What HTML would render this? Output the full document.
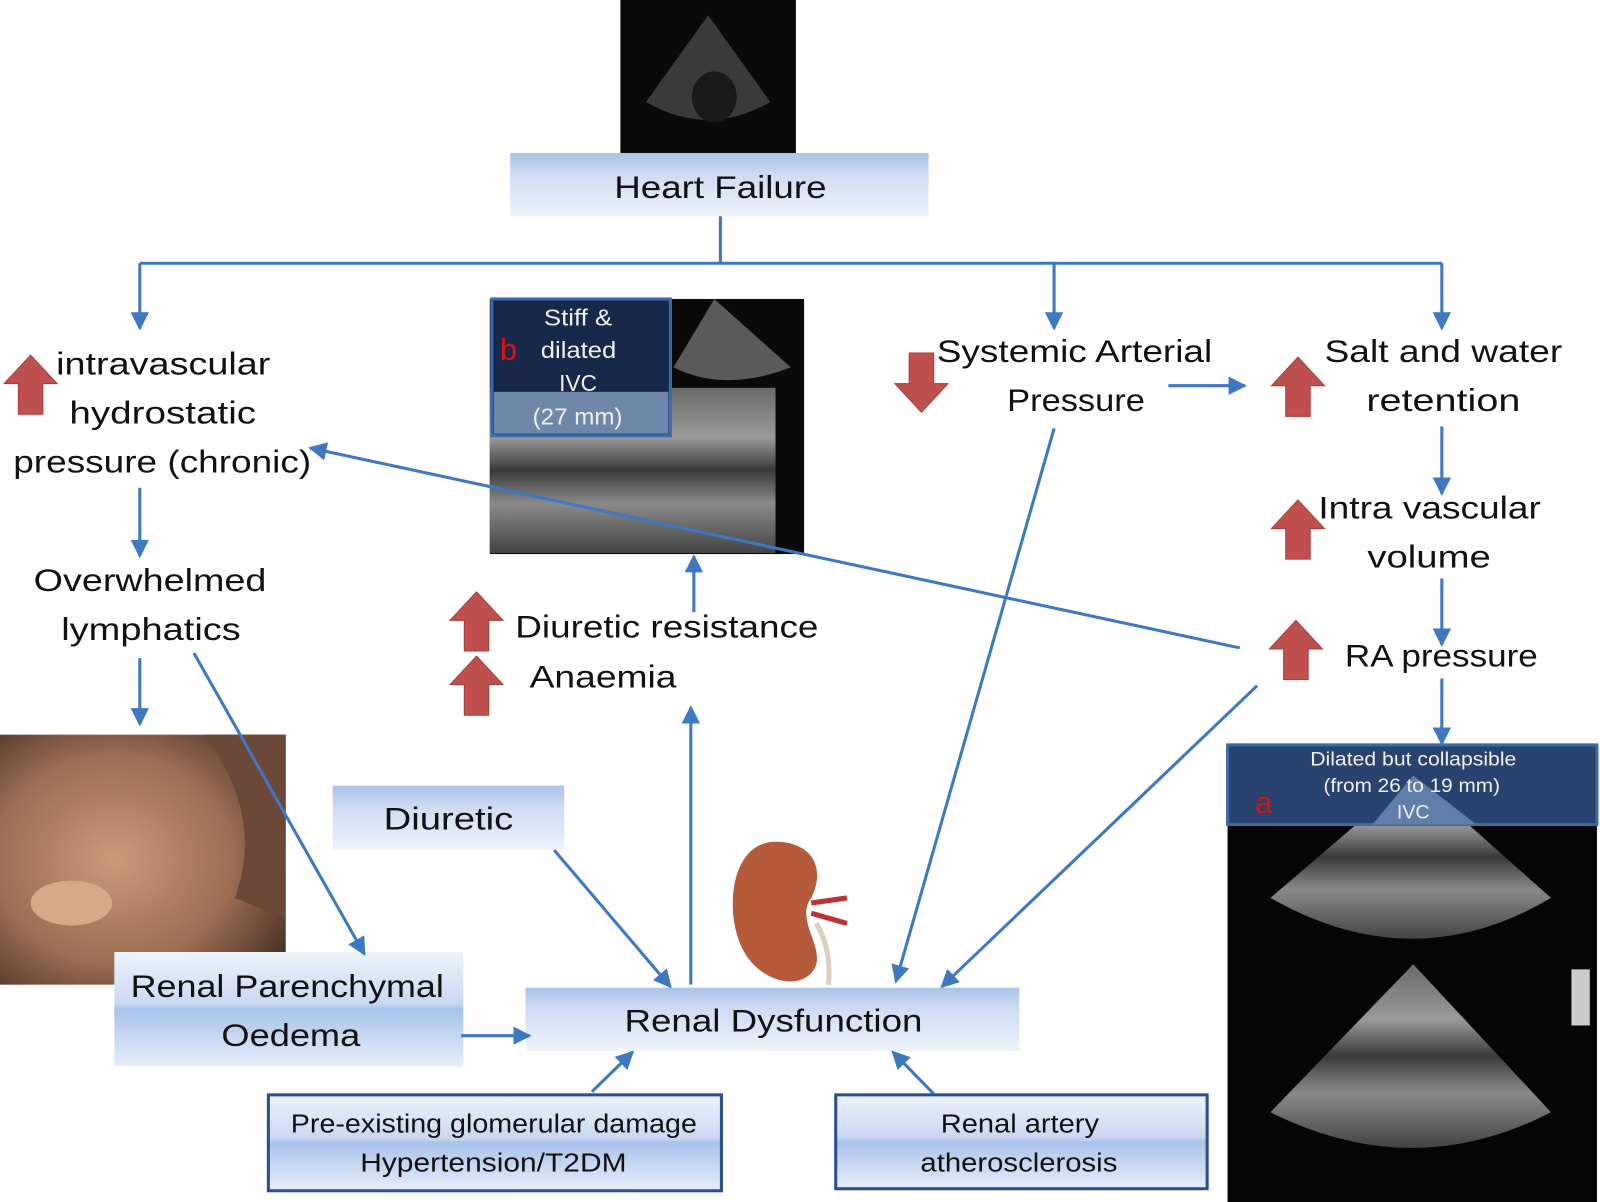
<!DOCTYPE html>
<html><head><meta charset="utf-8"><style>
html,body{margin:0;padding:0;background:#fff;}
svg{display:block;}
text{font-family:"Liberation Sans",sans-serif;}
</style></head><body>
<svg width="1600" height="1202" viewBox="0 0 1568 1178" preserveAspectRatio="none" xmlns="http://www.w3.org/2000/svg">
<defs>
<linearGradient id="bx" x1="0" y1="0" x2="0" y2="1">
<stop offset="0" stop-color="#a9c3ea"/><stop offset="0.35" stop-color="#cfdcf3"/><stop offset="1" stop-color="#eef3fb"/></linearGradient>
<linearGradient id="bx2" x1="0" y1="0" x2="0" y2="1">
<stop offset="0" stop-color="#eef3fb"/><stop offset="0.45" stop-color="#c9d8f2"/><stop offset="0.5" stop-color="#a9c3ea"/><stop offset="1" stop-color="#e6eefa"/></linearGradient>
<linearGradient id="us" x1="0" y1="0" x2="0" y2="1">
<stop offset="0" stop-color="#6a6a6a"/><stop offset="0.3" stop-color="#9a9a9a"/><stop offset="0.5" stop-color="#3a3a3a"/><stop offset="0.7" stop-color="#8a8a8a"/><stop offset="1" stop-color="#444"/></linearGradient>
<radialGradient id="skin" cx="0.4" cy="0.5" r="0.7">
<stop offset="0" stop-color="#c99a7a"/><stop offset="0.6" stop-color="#9b6d52"/><stop offset="1" stop-color="#4a3226"/></radialGradient>
<marker id="ah" markerWidth="18" markerHeight="18" refX="16" refY="9" orient="auto" markerUnits="userSpaceOnUse" viewBox="0 0 18 18">
<path d="M0,0 L18,9 L0,18 z" fill="#3d78c0"/></marker>
<g id="up"><path d="M-26,28 L0,0 L26,28 L12,28 L12,58 L-12,58 L-12,28 z" fill="#c0504d" stroke="#a33d3a" stroke-width="1"/></g>
</defs>

<rect x="608" y="0" width="172" height="150" fill="#0a0a0a"/>
<path d="M694,15 L755,100 Q694,135 633,100 z" fill="#3a3a3a"/>
<ellipse cx="700" cy="95" rx="22" ry="25" fill="#1a1a1a"/>

<rect x="500" y="150" width="410" height="62" fill="url(#bx)"/>
<text x="602" y="194" font-size="31" textLength="208" lengthAdjust="spacingAndGlyphs" fill="#111">Heart Failure</text>

<g stroke="#3d78c0" stroke-width="3" fill="none">
<path d="M706,212 V258 M137,258 H1413"/>
<path d="M137,258 V322" marker-end="url(#ah)"/>
<path d="M1033,258 V322" marker-end="url(#ah)"/>
<path d="M1413,258 V322" marker-end="url(#ah)"/>
</g>

<rect x="480" y="293" width="308" height="250" fill="#0a0a0a"/>
<rect x="480" y="380" width="280" height="162" fill="url(#us)"/>
<path d="M700,293 L775,360 Q710,385 660,360 z" fill="#5a5a5a"/>
<rect x="482" y="293" width="175" height="134" fill="#16294a" stroke="#3d6aa8" stroke-width="3"/>
<rect x="484" y="384" width="171" height="41" fill="#6f87a9"/>
<text x="490" y="353" font-size="30" fill="#e01010">b</text>
<g font-size="23" fill="#f0f0f0">
<text x="533" y="319" textLength="67" lengthAdjust="spacingAndGlyphs">Stiff &amp;</text>
<text x="530" y="351" textLength="74" lengthAdjust="spacingAndGlyphs">dilated</text>
<text x="548" y="383" textLength="37" lengthAdjust="spacingAndGlyphs">IVC</text>
<text x="522" y="416" textLength="88" lengthAdjust="spacingAndGlyphs">(27 mm)</text></g>

<use href="#up" x="30" y="348"/>
<g font-size="31" fill="#111">
<text x="55" y="367" textLength="210" lengthAdjust="spacingAndGlyphs">intravascular</text>
<text x="68" y="415" textLength="183" lengthAdjust="spacingAndGlyphs">hydrostatic</text>
<text x="13" y="463" textLength="292" lengthAdjust="spacingAndGlyphs">pressure (chronic)</text>
<text x="33" y="579" textLength="228" lengthAdjust="spacingAndGlyphs">Overwhelmed</text>
<text x="60" y="627" textLength="176" lengthAdjust="spacingAndGlyphs">lymphatics</text>
<text x="918" y="355" textLength="270" lengthAdjust="spacingAndGlyphs">Systemic Arterial</text>
<text x="987" y="403" textLength="135" lengthAdjust="spacingAndGlyphs">Pressure</text>
<text x="1298" y="355" textLength="233" lengthAdjust="spacingAndGlyphs">Salt and water</text>
<text x="1339" y="403" textLength="151" lengthAdjust="spacingAndGlyphs">retention</text>
<text x="1292" y="508" textLength="218" lengthAdjust="spacingAndGlyphs">Intra vascular</text>
<text x="1340" y="556" textLength="121" lengthAdjust="spacingAndGlyphs">volume</text>
<text x="1318" y="653" textLength="189" lengthAdjust="spacingAndGlyphs">RA pressure</text>
<text x="505" y="625" textLength="297" lengthAdjust="spacingAndGlyphs">Diuretic resistance</text>
<text x="519" y="674" textLength="144" lengthAdjust="spacingAndGlyphs">Anaemia</text>
</g>
<use href="#up" x="1272" y="350"/>
<use href="#up" x="1272" y="490"/>
<use href="#up" x="1270" y="608"/>
<use href="#up" x="467" y="580"/>
<use href="#up" x="467" y="643"/>
<use href="#up" transform="translate(903,404) scale(1,-1)"/>

<rect x="0" y="720" width="280" height="245" fill="url(#skin)"/>
<ellipse cx="70" cy="885" rx="40" ry="22" fill="#d4aa88"/>
<path d="M200,720 Q260,800 230,880 L280,900 L280,720 z" fill="#6b4838"/>

<rect x="1203" y="730" width="362" height="448" fill="#050505"/>
<path d="M1385,760 L1520,880 Q1385,960 1245,880 z" fill="url(#us)"/>
<path d="M1385,945 L1520,1090 Q1385,1160 1245,1090 z" fill="url(#us)"/>
<rect x="1540" y="950" width="18" height="55" fill="#ccc"/>
<rect x="1203" y="730" width="362" height="78" fill="#27436e" stroke="#3d6aa8" stroke-width="3"/>
<path d="M1385,760 L1447,808 L1345,808 z" fill="#5f7ea8"/>
<text x="1230" y="797" font-size="30" fill="#e01010">a</text>
<g font-size="19" fill="#f0f0f0">
<text x="1284" y="750" textLength="202" lengthAdjust="spacingAndGlyphs">Dilated but collapsible</text>
<text x="1297" y="776" textLength="173" lengthAdjust="spacingAndGlyphs">(from 26 to 19 mm)</text>
<text x="1369" y="802" textLength="32" lengthAdjust="spacingAndGlyphs">IVC</text></g>

<path d="M760,825 C720,825 712,880 722,915 C735,965 790,975 800,945 C805,925 780,900 795,880 C810,850 795,825 760,825 z" fill="#b55a3a"/>
<path d="M795,885 L830,880 M795,895 L830,905" stroke="#c03030" stroke-width="5"/>
<path d="M800,905 Q815,930 812,965" stroke="#d8d0c0" stroke-width="5" fill="none"/>

<rect x="326" y="770" width="227" height="63" fill="url(#bx)"/>
<rect x="112" y="933" width="342" height="112" fill="url(#bx2)"/>
<rect x="515" y="968" width="484" height="62" fill="url(#bx)"/>
<rect x="263" y="1073" width="444" height="94" fill="url(#bx2)" stroke="#2a5090" stroke-width="3"/>
<rect x="819" y="1073" width="364" height="92" fill="url(#bx2)" stroke="#2a5090" stroke-width="3"/>
<g fill="#111" font-size="31">
<text x="376" y="813" textLength="127" lengthAdjust="spacingAndGlyphs">Diuretic</text>
<text x="128" y="977" textLength="307" lengthAdjust="spacingAndGlyphs">Renal Parenchymal</text>
<text x="217" y="1025" textLength="136" lengthAdjust="spacingAndGlyphs">Oedema</text>
<text x="612" y="1011" textLength="292" lengthAdjust="spacingAndGlyphs">Renal Dysfunction</text>
<text x="285" y="1110" font-size="25" textLength="398" lengthAdjust="spacingAndGlyphs">Pre-existing glomerular damage</text>
<text x="353" y="1148" font-size="25" textLength="261" lengthAdjust="spacingAndGlyphs">Hypertension/T2DM</text>
<text x="922" y="1110" font-size="25" textLength="155" lengthAdjust="spacingAndGlyphs">Renal artery</text>
<text x="902" y="1148" font-size="25" textLength="193" lengthAdjust="spacingAndGlyphs">atherosclerosis</text>
</g>

<g stroke="#3d78c0" stroke-width="3" fill="none" marker-end="url(#ah)">
<path d="M137,478 V545"/>
<path d="M137,645 V710"/>
<path d="M190,640 L357,935"/>
<path d="M1413,418 V484"/>
<path d="M1413,567 V632"/>
<path d="M1413,665 V729"/>
<path d="M1145,378 H1220"/>
<path d="M1033,420 L878,962"/>
<path d="M1232,672 L923,967"/>
<path d="M1215,635 L304,439"/>
<path d="M677,965 V693"/>
<path d="M680,600 V545"/>
<path d="M543,833 L657,967"/>
<path d="M452,1015 H519"/>
<path d="M580,1070 L620,1031"/>
<path d="M915,1072 L875,1031"/>
</g>
</svg>
</body></html>
